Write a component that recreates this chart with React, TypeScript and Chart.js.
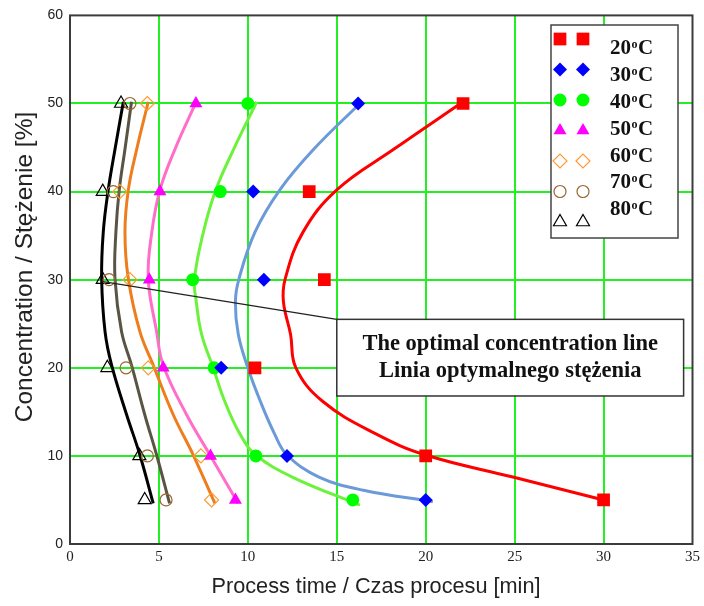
import React, { useEffect, useRef } from 'react';
import { Chart, registerables } from 'chart.js';
import { drawPoint } from 'chart.js/helpers';

Chart.register(...registerables);

// ---- data ----
const temperatures = ['20', '30', '40', '50', '60', '70', '80'];
const concentrations = [5, 10, 20, 30, 40, 50];

// measured process times [min] at each concentration (5,10,20,30,40,50 %)
const time20 = [30, 20, 10.4, 14.3, 13.45, 22.1];
const time30 = [20, 12.2, 8.5, 10.9, 10.3, 16.2];
const time40 = [15.9, 10.45, 8.1, 6.9, 8.45, 10.0];
const time50 = [9.3, 7.9, 5.24, 4.46, 5.06, 7.08];
const time60 = [7.96, 7.36, 4.4, 3.37, 2.8, 4.35];
const time70 = [5.4, 4.35, 3.15, 2.2, 2.43, 3.37];
const time80 = [4.2, 3.9, 2.1, 1.84, 1.84, 2.87];

// fitted curves: [time, concentration]
const curve20 = [[22.1, 50.2], [18.2, 44.8], [15.0, 40.2], [13.1, 35.4], [12.1, 30.1], [12.0, 27.5], [12.4, 23.8], [12.7, 20.0], [14.2, 16.2], [17.2, 12.5], [20.0, 10.1], [24.9, 7.6], [30.0, 5.0]];
const curve30 = [[16.4, 50.2], [13.7, 44.8], [11.8, 40.2], [10.4, 35.4], [9.5, 30.1], [9.3, 27.5], [9.46, 23.8], [10.0, 20.0], [10.7, 16.2], [11.5, 12.5], [12.2, 10.1], [14.0, 7.6], [16.5, 6.1], [20.4, 4.8]];
const curve40 = [[10.5, 50.2], [9.2, 44.8], [8.2, 40.2], [7.5, 35.4], [7.0, 30.1], [7.1, 27.5], [7.4, 23.8], [8.05, 20.0], [8.7, 16.2], [9.55, 12.5], [10.45, 10.1], [12.5, 7.6], [16.3, 4.4]];
const curve50 = [[7.1, 50.2], [5.9, 44.8], [5.06, 40.2], [4.6, 35.4], [4.4, 30.1], [4.87, 24.1], [5.24, 20.3], [6.55, 14.7], [7.87, 10.1], [9.46, 4.6]];
const curve60 = [[4.4, 50.2], [3.75, 44.8], [3.28, 40.2], [3.09, 35.4], [3.28, 30.1], [3.93, 24.1], [4.68, 20.3], [5.8, 14.7], [6.93, 10.1], [8.15, 4.6]];
const curve70 = [[3.46, 50.2], [3.09, 44.8], [2.77, 40.2], [2.58, 35.4], [2.53, 30.1], [2.9, 24.1], [3.46, 20.3], [4.2, 14.7], [4.87, 10.1], [5.6, 4.6]];
const curve80 = [[3.0, 50.2], [2.53, 44.8], [2.15, 40.2], [1.87, 35.4], [1.78, 30.1], [1.97, 24.1], [2.34, 20.3], [3.18, 14.7], [3.93, 10.1], [4.68, 4.6]];

// optimal concentration leader line: from point [time, conc] to the note box corner
const leaderStart = [1.78, 29.8];
const noteBox = { x1: 15.0, x2: 34.5, y1: 25.5, y2: 16.8 };
const noteLines = ['The optimal concentration line', 'Linia optymalnego stężenia'];

const xTitle = 'Process time / Czas procesu [min]';
const yTitle = 'Concentration / Stężenie [%]';

// ---- styles ----
const times = [time20, time30, time40, time50, time60, time70, time80];
const curves = [curve20, curve30, curve40, curve50, curve60, curve70, curve80];
const markerStyles = [
  { pointStyle: 'rect', radius: 9, fill: '#ff0000', stroke: '#ff0000', bw: 0 },
  { pointStyle: 'rectRot', radius: 7, fill: '#0000ff', stroke: '#0000ff', bw: 0 },
  { pointStyle: 'circle', radius: 6.5, fill: '#00ff00', stroke: '#00ff00', bw: 0 },
  { pointStyle: 'triangle', radius: 7.5, fill: '#ff00ff', stroke: '#ff00ff', bw: 0 },
  { pointStyle: 'rectRot', radius: 7, fill: 'rgba(0,0,0,0)', stroke: '#ff9933', bw: 1.2 },
  { pointStyle: 'circle', radius: 6, fill: 'rgba(0,0,0,0)', stroke: '#9a6633', bw: 1.2 },
  { pointStyle: 'triangle', radius: 7.5, fill: 'rgba(0,0,0,0)', stroke: '#000000', bw: 1.2 },
];
const curveColors = ['#ff0000', '#6a9ad8', '#6cf23c', '#ff6ec8', '#ee7d1e', '#5a5444', '#000000'];

const decorPlugin = {
  id: 'decor',
  afterDatasetsDraw(chart: any) {
    const { ctx, chartArea, scales } = chart;
    const { left, top, right, bottom } = chartArea;
    const xs = scales.x;
    const ys = scales.y;
    ctx.save();

    // frame
    ctx.strokeStyle = '#3c3c3c';
    ctx.lineWidth = 2;
    ctx.strokeRect(left, top, right - left, bottom - top);

    // leader line
    const bx1 = xs.getPixelForValue(noteBox.x1);
    const bx2 = xs.getPixelForValue(noteBox.x2);
    const by1 = ys.getPixelForValue(noteBox.y1);
    const by2 = ys.getPixelForValue(noteBox.y2);
    ctx.strokeStyle = '#222';
    ctx.lineWidth = 1.2;
    ctx.beginPath();
    ctx.moveTo(xs.getPixelForValue(leaderStart[0]), ys.getPixelForValue(leaderStart[1]));
    ctx.lineTo(bx1, by1);
    ctx.stroke();

    // note box
    ctx.fillStyle = '#ffffff';
    ctx.fillRect(bx1, by1, bx2 - bx1, by2 - by1);
    ctx.strokeStyle = '#333';
    ctx.lineWidth = 1.5;
    ctx.strokeRect(bx1, by1, bx2 - bx1, by2 - by1);
    ctx.fillStyle = '#111';
    ctx.font = 'bold 22.5px "Liberation Serif"';
    ctx.textAlign = 'center';
    ctx.textBaseline = 'middle';
    const cx = (bx1 + bx2) / 2;
    ctx.fillText(noteLines[0], cx, by1 + 25);
    ctx.fillText(noteLines[1], cx, by1 + 52);

    // legend
    const lx = 551, ly = 25, lw = 127, lh = 213;
    ctx.fillStyle = '#ffffff';
    ctx.fillRect(lx, ly, lw, lh);
    ctx.strokeStyle = '#444';
    ctx.lineWidth = 1.5;
    ctx.strokeRect(lx, ly, lw, lh);
    temperatures.forEach((t, i) => {
      const ms = markerStyles[i];
      const my = 39 + i * 30.5;
      ctx.fillStyle = ms.fill;
      ctx.strokeStyle = ms.stroke;
      ctx.lineWidth = ms.bw;
      [560, 583].forEach((mx) => {
        drawPoint(ctx, { pointStyle: ms.pointStyle, radius: ms.radius, rotation: 0, borderWidth: ms.bw }, mx, my);
      });
      const ty = 49 + i * 26.8;
      ctx.fillStyle = '#111';
      ctx.textAlign = 'left';
      ctx.textBaseline = 'middle';
      ctx.font = 'bold 21px "Liberation Serif"';
      ctx.fillText(t, 610, ty);
      const w1 = ctx.measureText(t).width;
      ctx.font = 'bold 12px "Liberation Serif"';
      ctx.fillText('o', 610 + w1 + 0.5, ty - 4);
      const w2 = ctx.measureText('o').width;
      ctx.font = 'bold 21px "Liberation Serif"';
      ctx.fillText('C', 610 + w1 + w2 + 1, ty);
    });

    ctx.restore();
  },
  afterDraw(chart: any) {
    const { ctx } = chart;
    ctx.save();
    ctx.fillStyle = '#222';
    ctx.font = '21.7px "Liberation Sans"';
    ctx.textAlign = 'center';
    ctx.textBaseline = 'middle';
    ctx.fillText(xTitle, 376, 587);
    ctx.translate(25, 267);
    ctx.rotate(-Math.PI / 2);
    ctx.font = '24.5px "Liberation Sans"';
    ctx.fillText(yTitle, 0, 0);
    ctx.restore();
  },
};

export default function App() {
  const ref = useRef<HTMLCanvasElement | null>(null);

  useEffect(() => {
    if (!ref.current) return;
    const markerSets = temperatures.map((t, i) => ({
      label: t + '°C',
      data: concentrations.map((c, j) => ({ x: times[i][j], y: c })),
      showLine: false,
      pointStyle: markerStyles[i].pointStyle,
      pointRadius: markerStyles[i].radius,
      pointBackgroundColor: markerStyles[i].fill,
      pointBorderColor: markerStyles[i].stroke,
      pointBorderWidth: markerStyles[i].bw,
      order: 0,
    }));
    const curveSets = temperatures.map((t, i) => ({
      label: t + '°C fit',
      data: curves[i].map(([x, y]) => ({ x, y })),
      showLine: true,
      borderColor: curveColors[i],
      borderWidth: 3,
      tension: 0.4,
      pointRadius: 0,
      fill: false,
      order: 1,
    }));
    const gridColor = (c: any) => {
      const v = c.tick && c.tick.value;
      return v > 0 && v < c.scale.max ? '#22f022' : 'rgba(0,0,0,0)';
    };
    const chart = new Chart(ref.current, {
      type: 'scatter',
      data: { datasets: [...markerSets, ...curveSets] as any },
      options: {
        animation: false,
        responsive: true,
        maintainAspectRatio: false,
        layout: { padding: { top: 12, right: 11, left: 0, bottom: 0 } },
        plugins: { legend: { display: false }, tooltip: { enabled: false } },
        scales: {
          x: {
            type: 'linear',
            min: 0,
            max: 35,
            ticks: { stepSize: 5, padding: 4, color: '#222', maxRotation: 0, font: { family: 'Liberation Serif', size: 15 } },
            grid: { color: gridColor, lineWidth: 2, drawTicks: false },
            border: { display: false },
            afterFit: (s: any) => { s.height = 62; },
          },
          y: {
            type: 'linear',
            min: 0,
            max: 60,
            ticks: { stepSize: 10, padding: 7, color: '#222', font: { family: 'Liberation Sans', size: 14 } },
            grid: { color: gridColor, lineWidth: 2, drawTicks: false },
            border: { display: false },
            afterFit: (s: any) => { s.width = 70; },
          },
        },
      } as any,
      plugins: [decorPlugin],
    });
    return () => chart.destroy();
  }, []);

  return (
    <div style={{ position: 'fixed', left: 0, top: 0, width: 704, height: 606, background: '#fff' }}>
      <canvas ref={ref} />
    </div>
  );
}
